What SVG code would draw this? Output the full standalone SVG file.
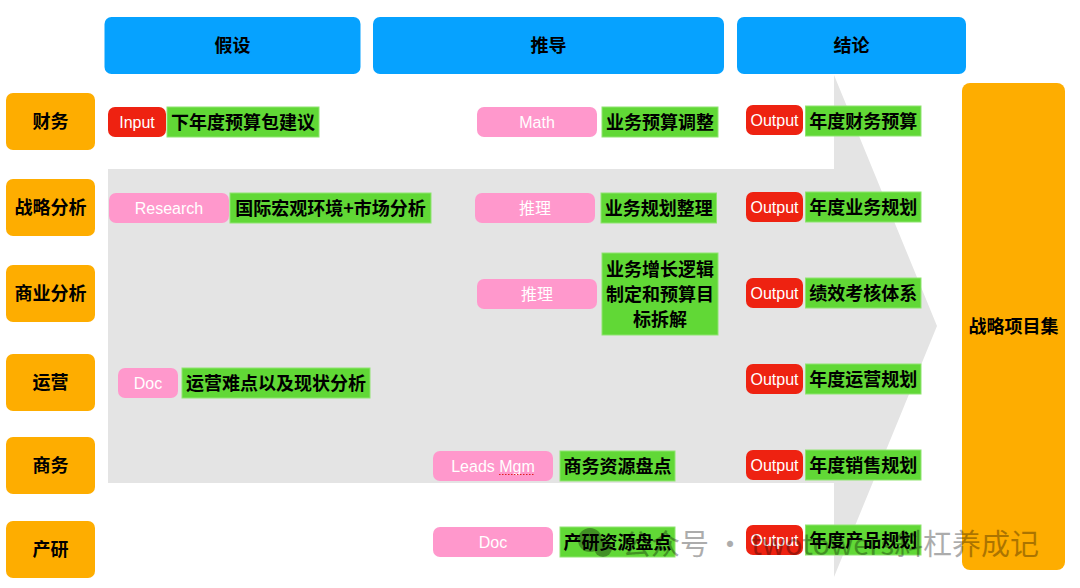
<svg xmlns="http://www.w3.org/2000/svg" width="1080" height="588" viewBox="0 0 1080 588">
<style>
.hdr{fill:#06A2FF}
.lane{fill:#FEAD00}
.pink{fill:#FF98CC}
.red{fill:#EE2211}
.green{fill:#61D836;stroke:#8FE470;stroke-width:1}
.cn{font-family:"Noto Sans CJK SC",sans-serif;font-size:18px;font-weight:700;fill:#000;text-anchor:middle}
.en{font-family:"Liberation Sans",Arial,"Noto Sans CJK SC",sans-serif;font-size:16px;fill:#fff;text-anchor:middle}
.wm{font-family:"Noto Sans CJK SC",sans-serif;font-size:29px;fill:#000}
</style>
<rect width="1080" height="588" fill="#fff"/>
<g id="connectors">
<polygon points="108,169 834,169 834,75 937,326 834,577 834,483 108,483" fill="#E4E4E4"/>
</g>
<g id="header-hypothesis"><rect class="hdr" x="104.5" y="17" width="256" height="57" rx="7"/><text class="cn" x="232.5" y="52">假设</text></g>
<g id="header-derivation"><rect class="hdr" x="373" y="17" width="351" height="57" rx="7"/><text class="cn" x="548.5" y="52">推导</text></g>
<g id="header-conclusion"><rect class="hdr" x="737" y="17" width="229" height="57" rx="7"/><text class="cn" x="851.5" y="52">结论</text></g>

<g id="lane-finance"><rect class="lane" x="6" y="93" width="89" height="57" rx="7"/><text class="cn" x="50.5" y="128">财务</text></g>
<g id="lane-strategy"><rect class="lane" x="6" y="179" width="89" height="57" rx="7"/><text class="cn" x="50.5" y="214">战略分析</text></g>
<g id="lane-business"><rect class="lane" x="6" y="265" width="89" height="57" rx="7"/><text class="cn" x="50.5" y="300">商业分析</text></g>
<g id="lane-operation"><rect class="lane" x="6" y="354" width="89" height="57" rx="7"/><text class="cn" x="50.5" y="389">运营</text></g>
<g id="lane-commerce"><rect class="lane" x="6" y="437" width="89" height="57" rx="7"/><text class="cn" x="50.5" y="472">商务</text></g>
<g id="lane-rnd"><rect class="lane" x="6" y="521" width="89" height="57" rx="7"/><text class="cn" x="50.5" y="556">产研</text></g>

<g id="result"><rect class="lane" x="962" y="83" width="103" height="487" rx="8"/><text class="cn" x="1013.5" y="333">战略项目集</text></g>

<g id="r1-input"><rect class="red" x="108" y="107" width="58" height="30" rx="7"/><text class="en" x="137" y="128">Input</text></g>
<g id="r1-input-text"><rect class="green" x="167" y="107" width="152" height="30"/><text class="cn" x="243" y="128.5">下年度预算包建议</text></g>
<g id="r1-math"><rect class="pink" x="477" y="107" width="120" height="30" rx="7"/><text class="en" x="537" y="128">Math</text></g>
<g id="r1-math-text"><rect class="green" x="602" y="107" width="116" height="30"/><text class="cn" x="660" y="128.5">业务预算调整</text></g>
<g id="r1-output"><rect class="red" x="746" y="105" width="57" height="30" rx="7"/><text class="en" x="774.5" y="126">Output</text></g>
<g id="r1-output-text"><rect class="green" x="805.5" y="106" width="115.5" height="30"/><text class="cn" x="863.25" y="127.5">年度财务预算</text></g>

<g id="r2-research"><rect class="pink" x="109" y="193" width="120" height="30" rx="7"/><text class="en" x="169" y="214">Research</text></g>
<g id="r2-research-text"><rect class="green" x="230" y="193" width="201" height="30"/><text class="cn" x="330.5" y="214.5">国际宏观环境+市场分析</text></g>
<g id="r2-reason"><rect class="pink" x="475" y="193" width="120" height="30" rx="7"/><text class="en" x="535" y="214">推理</text></g>
<g id="r2-reason-text"><rect class="green" x="601" y="193" width="115.5" height="30"/><text class="cn" x="658.75" y="214.5">业务规划整理</text></g>
<g id="r2-output"><rect class="red" x="746" y="192" width="57" height="30" rx="7"/><text class="en" x="774.5" y="213">Output</text></g>
<g id="r2-output-text"><rect class="green" x="805.5" y="192" width="115.5" height="30"/><text class="cn" x="863.25" y="213.5">年度业务规划</text></g>

<g id="r3-reason"><rect class="pink" x="477" y="279" width="120" height="30" rx="7"/><text class="en" x="537" y="300">推理</text></g>
<g id="r3-reason-text"><rect class="green" x="602" y="253" width="116" height="82"/><text class="cn" x="660" y="276">业务增长逻辑</text><text class="cn" x="660" y="301">制定和预算目</text><text class="cn" x="660" y="326">标拆解</text></g>
<g id="r3-output"><rect class="red" x="746" y="278" width="57" height="30" rx="7"/><text class="en" x="774.5" y="299">Output</text></g>
<g id="r3-output-text"><rect class="green" x="805.5" y="278" width="115.5" height="30"/><text class="cn" x="863.25" y="299.5">绩效考核体系</text></g>

<g id="r4-doc"><rect class="pink" x="118" y="368" width="60" height="30" rx="7"/><text class="en" x="148" y="389">Doc</text></g>
<g id="r4-doc-text"><rect class="green" x="182" y="368" width="188" height="30"/><text class="cn" x="276" y="389.5">运营难点以及现状分析</text></g>
<g id="r4-output"><rect class="red" x="746" y="364" width="57" height="30" rx="7"/><text class="en" x="774.5" y="385">Output</text></g>
<g id="r4-output-text"><rect class="green" x="805.5" y="364" width="115.5" height="30"/><text class="cn" x="863.25" y="385.5">年度运营规划</text></g>

<g id="r5-leads"><rect class="pink" x="433" y="451" width="120" height="30" rx="7"/><text class="en" x="493" y="472">Leads Mgm</text><path d="M499,474.5 L535,474.5" stroke="#E02020" stroke-width="1" stroke-dasharray="1.5,1.5" fill="none"/></g>
<g id="r5-leads-text"><rect class="green" x="560" y="451" width="115" height="30"/><text class="cn" x="617.5" y="472.5">商务资源盘点</text></g>
<g id="r5-output"><rect class="red" x="746" y="450" width="57" height="30" rx="7"/><text class="en" x="774.5" y="471">Output</text></g>
<g id="r5-output-text"><rect class="green" x="805.5" y="450" width="115.5" height="30"/><text class="cn" x="863.25" y="471.5">年度销售规划</text></g>

<g id="r6-doc"><rect class="pink" x="433" y="527" width="120" height="30" rx="7"/><text class="en" x="493" y="548">Doc</text></g>
<g id="r6-doc-text"><rect class="green" x="560" y="527" width="115" height="30"/><text class="cn" x="617.5" y="548.5">产研资源盘点</text></g>
<g id="r6-output"><rect class="red" x="746" y="525" width="57" height="30" rx="7"/><text class="en" x="774.5" y="546">Output</text></g>
<g id="r6-output-text"><rect class="green" x="805.5" y="525" width="115.5" height="30"/><text class="cn" x="863.25" y="546.5">年度产品规划</text></g>

<g id="watermark" opacity="0.32">
<circle cx="590" cy="540" r="12" fill="#000"/>
<circle cx="603" cy="548" r="9" fill="#000"/>
<text class="wm" x="622" y="555">公众号 · twotowers斜杠养成记</text>
</g>
</svg>
